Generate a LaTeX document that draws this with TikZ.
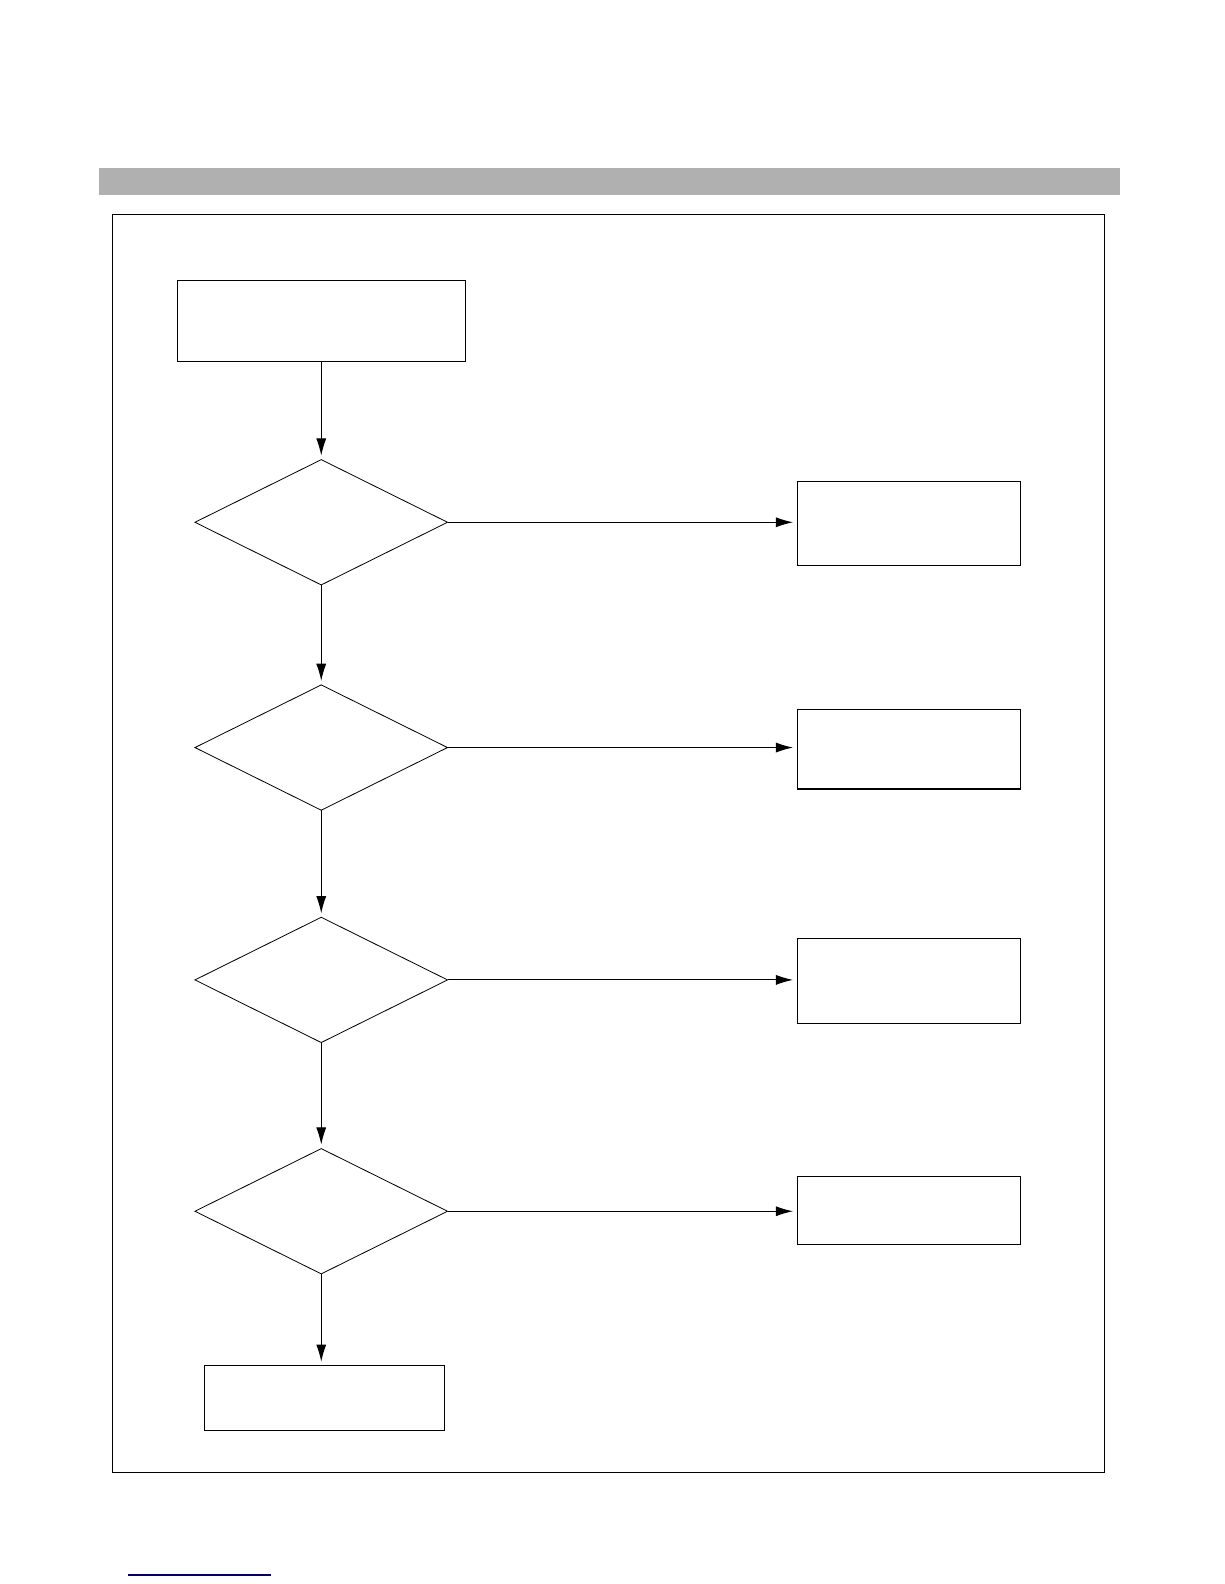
\documentclass[tikz,border=0pt]{standalone}
\usetikzlibrary{arrows.meta}
\begin{document}
\begin{tikzpicture}[x=1pt,y=-1pt,
  bx/.style={draw,line width=1.1pt},
  dm/.style={draw,line width=0.8pt},
  arr/.style={line width=1pt,-{Latex[length=17pt,width=10pt]},shorten >=4pt}]
\useasboundingbox (0,0) rectangle (1212,1568);
\fill[black!31] (98,166) rectangle (1109,193);
\draw[line width=1.1pt] (111,212) rectangle (1093,1458);
\draw[bx] (176,278) rectangle (461,358);
\coordinate (s) at (318,358);
\foreach \i/\c in {1/517,2/740,3/970,4/1199}{
  \draw[dm] (193,\c) -- (318,\c-62) -- (443,\c) -- (318,\c+62) -- cycle;
  \coordinate (dt\i) at (318,\c-62);
  \coordinate (db\i) at (318,\c+62);
  \coordinate (dr\i) at (443,\c);
  \coordinate (rl\i) at (789,\c);
}
\draw[bx] (789,477) rectangle (1010,560);
\draw[bx] (789,702) rectangle (1010,781);
\draw[bx] (789,929) rectangle (1010,1013);
\draw[bx] (789,1165) rectangle (1010,1232);
\draw[bx] (202,1352) rectangle (440,1416);
\coordinate (e) at (318,1352);
\draw[arr] (s) -- (dt1);
\draw[arr] (db1) -- (dt2);
\draw[arr] (db2) -- (dt3);
\draw[arr] (db3) -- (dt4);
\draw[arr] (db4) -- (e);
\foreach \i in {1,...,4}{\draw[arr] (dr\i) -- (rl\i);}
\draw[line width=1.2pt,blue!40!black] (127,1559) -- (268,1559);
\end{tikzpicture}
\end{document}
